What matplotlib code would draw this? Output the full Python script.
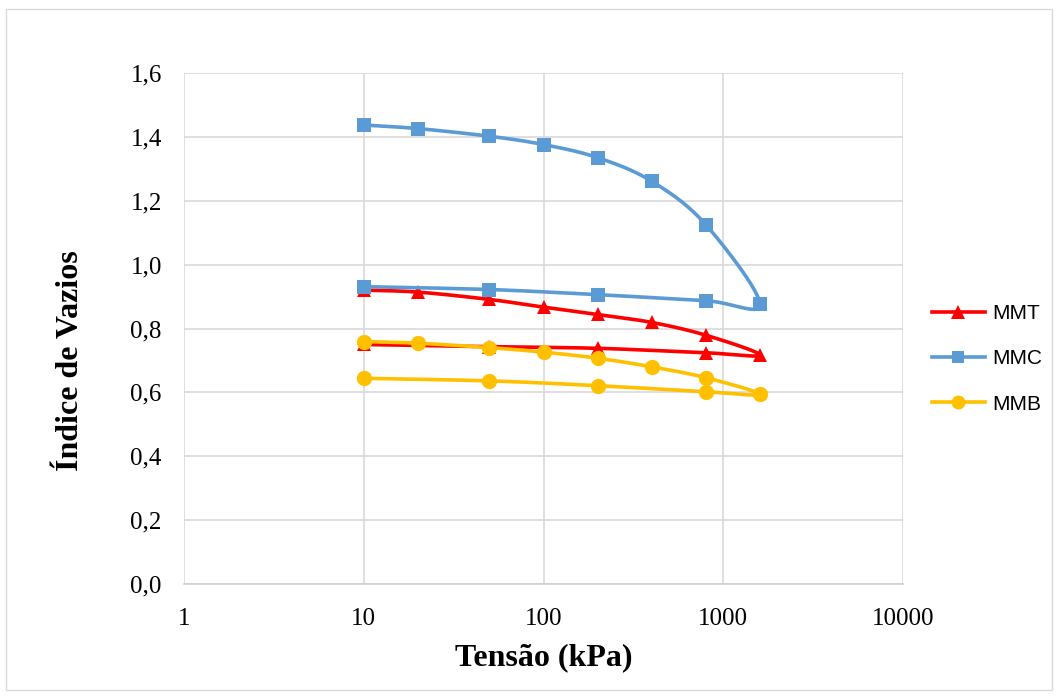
import numpy as np
import matplotlib
matplotlib.use("Agg")
import matplotlib.pyplot as plt
from matplotlib.lines import Line2D
from matplotlib.patches import Rectangle
from matplotlib.ticker import FixedLocator, FuncFormatter, NullLocator

# ---- data ----
tensao = [10, 20, 50, 100, 200, 400, 800, 1600, 800, 200, 50, 10]
mmt = [0.920, 0.914, 0.891, 0.867, 0.844, 0.819, 0.779, 0.717, 0.724, 0.738, 0.743, 0.750]
mmc = [1.437, 1.426, 1.402, 1.376, 1.335, 1.261, 1.125, 0.876, 0.887, 0.906, 0.922, 0.931]
mmb = [0.759, 0.754, 0.740, 0.726, 0.707, 0.680, 0.646, 0.594, 0.602, 0.621, 0.636, 0.644]
series_names = ["MMT", "MMC", "MMB"]
x_ticks = [1, 10, 100, 1000, 10000]
y_ticks = [0.0, 0.2, 0.4, 0.6, 0.8, 1.0, 1.2, 1.4, 1.6]

colors = {"MMT": "#FF0000", "MMC": "#5B9BD5", "MMB": "#FFC000"}
markers = {"MMT": "^", "MMC": "s", "MMB": "o"}
msizes = {"MMT": 10.5, "MMC": 9.5, "MMB": 11}

W, H = 1060, 697
fig = plt.figure(figsize=(W / 100, H / 100), dpi=100)
fig.patch.set_facecolor("white")
fig.patches.append(Rectangle((6 / W, 7 / H), 1046 / W, 681 / H, transform=fig.transFigure,
                             fill=False, edgecolor="#d9d9d9", linewidth=1.0))

ax = fig.add_axes([184 / W, 113 / H, 719 / W, 511 / H])
ax.set_xscale("log")
ax.set_xlim(1, 10000)
ax.set_ylim(0, 1.6)

# pixel scales for Excel-like smoothing
px_dec = 719 / 4.0
px_unit = 511 / 1.6


def excel_smooth(xs, ys, n=30):
    u = np.log10(np.asarray(xs, float)) * px_dec
    v = np.asarray(ys, float) * px_unit
    P = np.column_stack([u, v])
    m = len(P)
    out = []
    for i in range(m - 1):
        p0 = P[i - 1] if i > 0 else P[i]
        p1 = P[i]
        p2 = P[i + 1]
        p3 = P[i + 2] if i + 2 < m else P[i + 1]
        c1 = p1 + (p2 - p0) / 6.0
        c2 = p2 - (p3 - p1) / 6.0
        t = np.linspace(0, 1, n)[:, None]
        seg = ((1 - t) ** 3) * p1 + 3 * ((1 - t) ** 2) * t * c1 + 3 * (1 - t) * t ** 2 * c2 + t ** 3 * p2
        if i > 0:
            seg = seg[1:]
        out.append(seg)
    C = np.vstack(out)
    return 10 ** (C[:, 0] / px_dec), C[:, 1] / px_unit


data = {"MMT": mmt, "MMC": mmc, "MMB": mmb}
z = 3
for name in series_names:
    ys = data[name]
    sx, sy = excel_smooth(tensao, ys)
    ax.plot(sx, sy, color=colors[name], lw=2.6, solid_capstyle="round", zorder=z)
    ax.plot(tensao, ys, linestyle="none", marker=markers[name], markersize=msizes[name],
            color=colors[name], markeredgewidth=0, zorder=z + 0.5)
    z += 1

ax.xaxis.set_major_locator(FixedLocator(x_ticks))
ax.xaxis.set_minor_locator(NullLocator())
ax.xaxis.set_major_formatter(FuncFormatter(lambda v, p: f"{int(round(v))}"))
ax.yaxis.set_major_locator(FixedLocator(y_ticks))
ax.yaxis.set_major_formatter(FuncFormatter(lambda v, p: f"{v:.1f}".replace(".", ",")))

ax.grid(True, which="major", color="#d9d9d9", linewidth=1.2, zorder=0)
ax.set_axisbelow(True)
for s in ["top", "right", "left"]:
    ax.spines[s].set_visible(False)
ax.spines["bottom"].set_color("#d0d0d0")
ax.spines["bottom"].set_linewidth(1.2)
ax.tick_params(axis="both", length=0, labelsize=18)
ax.tick_params(axis="x", pad=17)
ax.tick_params(axis="y", pad=16)
for lab in ax.get_xticklabels() + ax.get_yticklabels():
    lab.set_fontfamily("Liberation Serif")
    lab.set_color("#000000")

fig.text(543.5 / W, 1 - 658 / H, "Tensão (kPa)", family="Liberation Serif", fontweight="bold",
         fontsize=23, ha="center", va="center")
fig.text(70 / W, 1 - 361 / H, "Índice de Vazios", family="Liberation Serif", fontweight="bold",
         fontsize=23, ha="center", va="center", rotation=90)

handles = [Line2D([0], [0], color=colors[n], lw=2.6, marker=markers[n], markersize=msizes[n] - 1,
                  markeredgewidth=0) for n in series_names]
leg = fig.legend(handles, series_names, loc="center left", bbox_to_anchor=(913 / W, 1 - 359 / H),
                 frameon=False, prop={"family": "Liberation Sans", "size": 15},
                 handlelength=2.55, handletextpad=0.33, labelspacing=1.25)

fig.savefig("out.png", dpi=100, facecolor="white")
